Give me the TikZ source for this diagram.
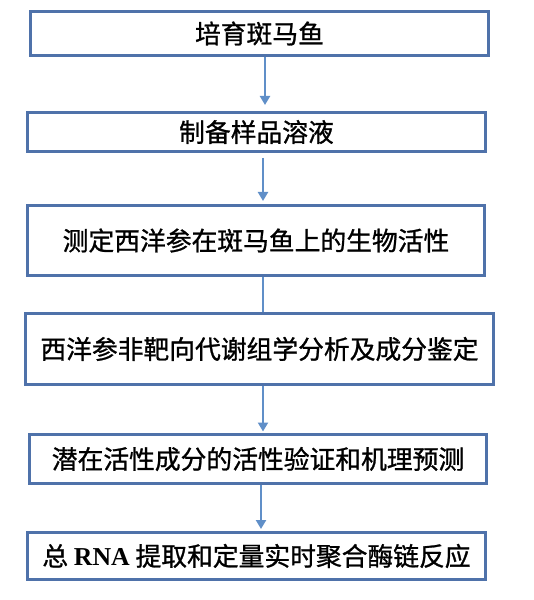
\documentclass[tikz,border=0pt]{standalone}
\usepackage{fontspec}
\setmainfont{Liberation Serif}
\newfontfamily\cjk[FakeBold=1]{Noto Sans CJK SC}
\usepackage{tikz}
\usetikzlibrary{positioning,arrows.meta}
\definecolor{boxblue}{RGB}{79,114,170}
\definecolor{flowblue}{RGB}{96,143,200}

\begin{document}
\begin{tikzpicture}[x=0.03cm, y=-0.03cm,
  font=\cjk\fontsize{22}{26}\selectfont,
  stepbox/.style={draw=boxblue, line width=0.09cm, fill=white, inner sep=0pt},
  flow/.style={draw=flowblue, line width=0.08cm, -{Triangle[length=0.27cm,width=0.3cm]}}]
  \def\u{0.03cm}
  \useasboundingbox (0,0) rectangle (533,600);
  \node[stepbox, minimum width=458*\u, minimum height=44*\u] (culture) at (259.5,33.5) {培育斑马鱼};
  \node[stepbox, minimum width=458*\u, minimum height=39*\u] (prep)    at (256.5,132)  {制备样品溶液};
  \node[stepbox, minimum width=457*\u, minimum height=70*\u] (bioact)  at (256,240.5)  {测定西洋参在斑马鱼上的生物活性};
  \node[stepbox, minimum width=468*\u, minimum height=71*\u] (metab)   at (259.5,349)  {西洋参非靶向代谢组学分析及成分鉴定};
  \node[stepbox, minimum width=457*\u, minimum height=49*\u] (verify)  at (258,459)    {潜在活性成分的活性验证和机理预测};
  \node[stepbox, minimum width=458*\u, minimum height=47*\u] (rna)     at (256.5,556)  {总 {\rmfamily\bfseries RNA} 提取和定量实时聚合酶链反应};
  % connectors
  \draw[flow, shorten >=6*\u] ([xshift=5.5*\u]culture.south) -- ([xshift=8.5*\u]prep.north);
  \draw[flow, shorten <=5*\u, shorten >=3*\u] ([xshift=6.5*\u]prep.south) -- ([xshift=7*\u]bioact.north);
  \draw[flowblue, line width=0.08cm] ([xshift=7*\u]bioact.south) -- ([xshift=3.5*\u]metab.north);
  \draw[flow, shorten >=1.5*\u] ([xshift=3.5*\u]metab.south) -- ([xshift=5*\u]verify.north);
  \draw[flow, shorten >=2*\u] ([xshift=3*\u]verify.south) -- ([xshift=4.5*\u]rna.north);
\end{tikzpicture}
\end{document}
